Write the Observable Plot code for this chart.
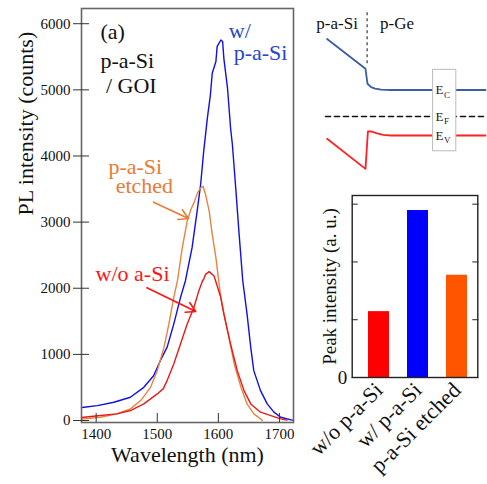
<!DOCTYPE html>
<html><head><meta charset="utf-8">
<script src="https://cdn.jsdelivr.net/npm/d3@7"></script>
<script src="https://cdn.jsdelivr.net/npm/@observablehq/plot@0.6"></script>
<style>
body{margin:0;background:#fff}
#wrap{position:relative;width:487px;height:484px;overflow:hidden}
#wrap svg{position:absolute}
</style>
</head><body><div id="wrap"></div>
<script>
// ---- main spectra ----
const blueNm  = [1376,1380,1402,1429,1456,1478,1494,1505,1516,1527,1538,1546,1557,1566,1571,1576,1582,1587,1590,1596,1598,1604,1607,1609,1615,1620,1623,1628,1634,1640,1647,1653,1658,1669,1680,1691,1702,1719,1723];
const blueVal = [195,200,226,276,352,502,678,905,1105,1458,1859,2110,2613,3216,3569,4070,4573,4925,5251,5428,5654,5754,5730,5477,5025,4422,4170,3569,2815,2110,1608,1105,754,452,251,126,50,10,5];
const orangeNm  = [1376,1380,1407,1434,1456,1473,1489,1500,1511,1519,1527,1533,1541,1549,1555,1560,1566,1571,1575,1579,1585,1590,1596,1601,1604,1615,1626,1637,1647,1658,1669,1672];
const orangeVal = [20,25,50,100,176,302,502,754,1105,1458,1859,2110,2613,3015,3191,3291,3442,3517,3543,3418,3166,2815,2462,2080,1859,1357,855,502,251,100,25,0];
const redNm  = [1376,1380,1407,1434,1456,1478,1500,1510,1516,1527,1538,1549,1560,1568,1574,1576,1579,1585,1593,1604,1609,1620,1631,1642,1653,1669,1686,1702,1712];
const redVal = [45,50,75,100,151,251,402,482,603,855,1156,1458,1708,1960,2110,2136,2210,2251,2186,1859,1608,1156,754,452,251,126,75,25,5];
const xTicks = [1400,1500,1600,1700];
const yTicks = [0,1000,2000,3000,4000,5000,6000];

// annotations (data coordinates: nm, counts)
const annText  = ["(a)","p-a-Si","/ GOI","w/","p-a-Si","p-a-Si","etched","w/o a-Si"];
const annNm    = [1407,1407,1416,1617,1625,1420,1432,1399];
const annCnt   = [5872,5444,5066,5897,5565,3836,3548,2223];
const annColor = ["#111","#111","#111","#2446d0","#2446d0","#ea7a35","#ea7a35","#ff1414"];
const arrows = [
  {x1:1494,y1:3301,x2:1551,y2:3054,c:"#ea7a35"},
  {x1:1483,y1:2007,x2:1563,y2:1648,c:"#ff1414"}
];

// ---- bar inset ----
const categories = ["w/o p-a-Si","w/ p-a-Si","p-a-Si etched"];
const peakIntensity = [1.14, 2.89, 1.77];
const barColors = ["#ff0000","#0000ff","#ff5500"];
const barTicks = [0,1,2,3];

// ---- band diagram (position nm, energy eV) ----
const ecPos = [-10,-0.4,0.1,1,2,3.5,6,29.6];
const ecE   = [1.40,0.967,0.75,0.70,0.68,0.665,0.66,0.66];
const evPos = [-10,-0.4,0.2,1,2.5,4,6,29.6];
const evE   = [-0.048,-0.483,0.058,0.06,0.03,0.01,0,0];
const efPos = [-10.4,29.6];
const efE   = 0.275;
const levelNames = ["C","F","V"];
const levelE = [0.66,0.275,0];

const zip = (a,b) => a.map((v,i)=>({x:v,y:b[i]}));
const wrap = document.getElementById("wrap");
const FF = "Liberation Serif";

const main = Plot.plot({
  width:300, height:484,
  marginLeft:81, marginRight:7, marginTop:8, marginBottom:62,
  style:{fontFamily:FF, fontSize:"15px", background:"transparent", overflow:"visible"},
  x:{domain:[1376,1723]},
  y:{domain:[-30,6230]},
  marks:[
    Plot.line(zip(blueNm,blueVal),{x:"x",y:"y",stroke:"#1010e6",strokeWidth:1.4}),
    Plot.line(zip(orangeNm,orangeVal),{x:"x",y:"y",stroke:"#e8843f",strokeWidth:1.4}),
    Plot.line(zip(redNm,redVal),{x:"x",y:"y",stroke:"#e81a1a",strokeWidth:1.4}),
    Plot.frame({stroke:"#666",strokeWidth:1.6}),
    Plot.axisY({ticks:yTicks,tickSize:8,text:null,label:null,stroke:"#333"}),
    Plot.axisY({ticks:yTicks,tickSize:-8,text:null,label:null,stroke:"#333"}),
    Plot.axisY({ticks:yTicks,tickSize:0,tickPadding:11,tickFormat:d=>String(d),label:null,fontSize:15,fontFamily:FF,fill:"#111"}),
    Plot.axisX({ticks:xTicks,tickSize:-9,text:null,label:null,stroke:"#333"}),
    Plot.axisX({ticks:xTicks,tickSize:0,tickPadding:6,tickFormat:d=>String(d),label:null,fontSize:15,fontFamily:FF,fill:"#111"}),
    Plot.text(["Wavelength (nm)"],{frameAnchor:"bottom",dy:39,fontSize:22,fontFamily:FF,fill:"#111"}),
    Plot.text(["PL intensity (counts)"],{frameAnchor:"left",rotate:-90,dx:-56,fontSize:22,fontFamily:FF,fill:"#111"}),
    Plot.text(annText,{x:(d,i)=>annNm[i],y:(d,i)=>annCnt[i],text:d=>d,fill:(d,i)=>annColor[i],textAnchor:"start",fontSize:22,fontFamily:FF}),
    Plot.arrow(arrows,{x1:"x1",y1:"y1",x2:"x2",y2:"y2",stroke:"c",strokeWidth:1.6,headLength:10,inset:0})
  ]
});
main.style.left="0px"; main.style.top="0px";
wrap.appendChild(main);

const band = Plot.plot({
  width:187, height:180,
  marginLeft:25, marginRight:2, marginTop:0, marginBottom:0,
  style:{fontFamily:FF, background:"transparent", overflow:"visible"},
  x:{domain:[-10.4,29.6], axis:null},
  y:{domain:[-0.652,1.957], axis:null},
  marks:[
    Plot.ruleX([0],{y1:1.04,y2:1.78,stroke:"#111",strokeDasharray:"3,3",strokeWidth:1}),
    Plot.line(zip(ecPos,ecE),{x:"x",y:"y",stroke:"#3d5ca6",strokeWidth:1.8}),
    Plot.line(zip(evPos,evE),{x:"x",y:"y",stroke:"#ff2222",strokeWidth:1.8}),
    Plot.line(efPos.map(p=>({x:p,y:efE})),{x:"x",y:"y",stroke:"#111",strokeWidth:1.6,strokeDasharray:"5,4"}),
    Plot.rect([{x1:16.5,x2:22.3,y1:-0.228,y2:0.952}],{x1:"x1",x2:"x2",y1:"y1",y2:"y2",fill:"white",stroke:"#bbb",strokeWidth:1}),
    Plot.text(levelNames,{x:17.1,y:(d,i)=>levelE[i],text:()=>"E",textAnchor:"start",fontSize:13,fontFamily:FF,fill:"#222"}),
    Plot.text(levelNames,{x:17.1,y:(d,i)=>levelE[i],text:d=>d,textAnchor:"start",dx:8.5,dy:5,fontSize:9,fontFamily:FF,fill:"#222"}),
    Plot.text(["p-a-Si","p-Ge"],{x:(d,i)=>[-7.5,7.5][i],y:1.62,text:d=>d,fontSize:17,fontFamily:FF,fill:"#111"})
  ]
});
band.style.left="300px"; band.style.top="0px";
wrap.appendChild(band);

const bars = Plot.plot({
  width:187, height:314,
  marginLeft:51.7, marginRight:9.7, marginTop:25, marginBottom:107,
  style:{fontFamily:FF, fontSize:"15px", background:"transparent", overflow:"visible"},
  x:{domain:categories, paddingInner:0.45, paddingOuter:0.315, align:0.64},
  y:{domain:[0,3.15]},
  marks:[
    Plot.barY(categories,{x:d=>d,y:(d,i)=>peakIntensity[i],fill:(d,i)=>barColors[i]}),
    Plot.frame({stroke:"#222",strokeWidth:1.4}),
    Plot.axisY({ticks:barTicks,tickSize:-6,text:null,label:null,stroke:"#222"}),
    Plot.axisY({anchor:"right",ticks:barTicks,tickSize:-6,text:null,label:null,stroke:"#222"}),
    Plot.axisY({ticks:[0],tickSize:0,tickPadding:5,tickFormat:d=>String(d),label:"Peak intensity (a. u.)",labelAnchor:"center",labelArrow:"none",labelOffset:30,fontSize:19,fontFamily:FF,fill:"#111"}),
    Plot.axisX({tickSize:0,tickPadding:9,tickRotate:-45,label:null,fontSize:22,fontFamily:FF,fill:"#111"})
  ]
});
bars.style.left="300px"; bars.style.top="170px";
wrap.appendChild(bars);
</script></body></html>
